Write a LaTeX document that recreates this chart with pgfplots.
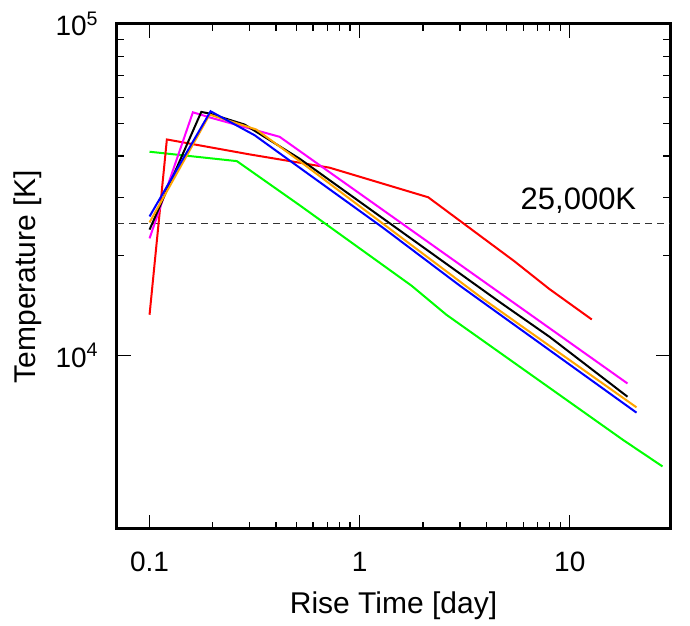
\documentclass[border=0pt]{standalone}
\usepackage{fontspec}
\setmainfont{Liberation Sans}
\usepackage{pgfplots}
\pgfplotsset{compat=1.18}
\definecolor{cOrange}{RGB}{255,165,0}
\definecolor{cGreen}{RGB}{0,255,0}
\definecolor{cMag}{RGB}{255,0,255}
\begin{document}
\begin{tikzpicture}
\begin{axis}[
  name=ax,
  scale only axis,
  width=276.5pt, height=252.5pt,
  xmode=log, ymode=log,
  xmin=0.07, xmax=30, ymin=3000, ymax=100000,
  xtick={0.1,1,10}, xticklabels={0.1,1,10},
  ytick={10000,100000}, yticklabels={10\textsuperscript{4},10\textsuperscript{5}},
  tick align=inside,
  major tick length=7pt, minor tick length=3.5pt,
  tick style={line width=0.6pt, black},
  axis line style={line width=1.5pt},
  /pgf/number format/assume math mode=true,
  ticklabel style={font=\fontsize{14}{16}\selectfont},
  xticklabel style={anchor=base, yshift=-21.5pt, inner sep=0pt},
  yticklabel style={anchor=east, xshift=-9pt, inner sep=0pt},
  xlabel={Rise Time [day]}, ylabel={Temperature [K]},
  label style={font=\fontsize{15}{17}\selectfont},
  xlabel style={at={(axis description cs:0.5,-0.1683)}, anchor=base},
  ylabel style={at={(axis description cs:-0.1465,0.5)}, anchor=base},
  clip=true,
]
\addplot[black!80, line width=0.7pt, dash pattern=on 3.5pt off 2.5pt] coordinates {(0.07,25000) (30,25000)};
\addplot[cGreen, line width=1pt] coordinates {
(0.1,41190) (0.2604,38590) (0.5179,28410) (1.763,16260) (2.587,13280) (17.94,5567) (27.63,4632)};
\addplot[red, line width=1pt] coordinates {
(0.1,13280) (0.1209,44850) (0.2994,40430) (0.7197,36870) (2.120,30020) (5.430,19290) (7.987,15890) (12.73,12850)};
\addplot[cMag, line width=1pt] coordinates {
(0.1,22570) (0.1608,54160) (0.1967,52110) (0.4160,45680) (1.550,25310) (18.83,8240)};
\addplot[black, line width=1pt] coordinates {
(0.1,23980) (0.1763,54310) (0.1931,53680) (0.2835,49740) (0.5179,39250) (4.642,14500) (8.031,11380) (18.83,7517)};
\addplot[cOrange, line width=1pt] coordinates {
(0.1,25210) (0.1931,53310) (0.3223,48050) (0.5179,38590) (3.865,14830) (20.78,6982)};
\addplot[blue, line width=1pt] coordinates {
(0.1,26280) (0.1952,54540) (0.3162,46190) (0.5179,36870) (1.291,24300) (2.994,16260) (20.78,6729)};
\node[anchor=base east, inner sep=0pt, font=\fontsize{15.5}{17}\selectfont] at (axis cs:20.8,27630) {25,000K};
\end{axis}
\pgfresetboundingbox
\path ([shift={(-58.5pt,-48pt)}]ax.south west) rectangle ([shift={(10pt,12pt)}]ax.north east);
\end{tikzpicture}
\end{document}
